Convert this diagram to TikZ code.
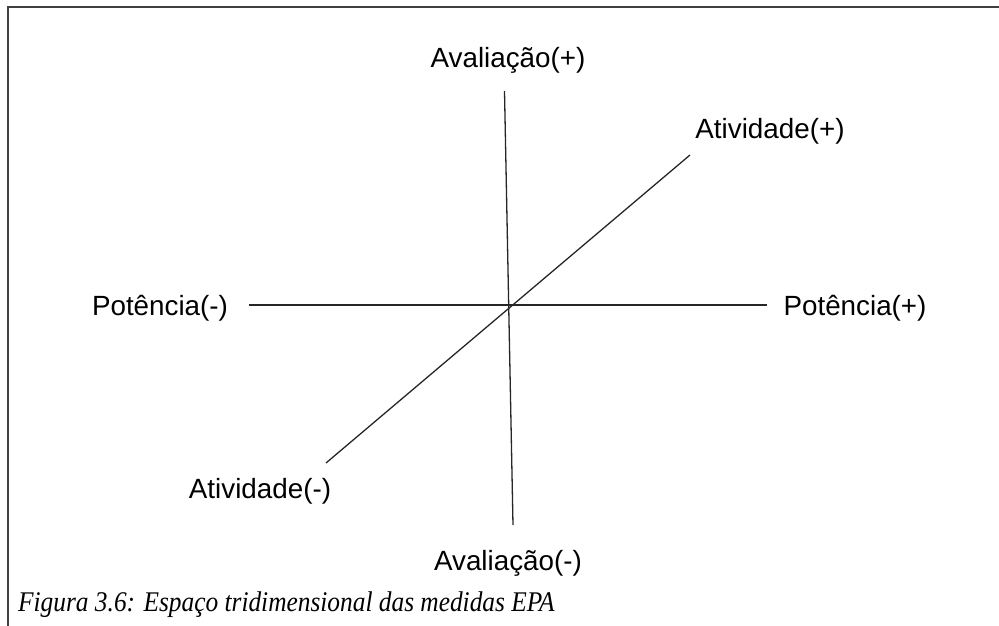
\documentclass[tikz,border=0pt]{standalone}
\usepackage{fontspec}
\setmainfont{Liberation Sans}
\newfontfamily\captionfont{Liberation Serif}
\begin{document}
\begin{tikzpicture}[x=1pt,y=-1pt,
  axislabel/.style={font=\fontsize{27.8}{30}\selectfont, inner sep=0pt, anchor=base},
  axis/.style={line width=1.3pt, black!85},
  frameline/.style={line width=2pt, black!75}]
\useasboundingbox (0,0) rectangle (999,626);
% frame
\draw[frameline] (7.5,626) -- (7.5,7) -- (999,7);
% axis end points
\coordinate (evalTop) at (504.5,91);
\coordinate (evalBot) at (513,525);
\coordinate (potL) at (249,305);
\coordinate (potR) at (767,305);
\coordinate (actL) at (326,463);
\coordinate (actR) at (690,155);
\draw[axis] (evalTop) -- (evalBot);
\draw[axis] (potL) -- (potR);
\draw[axis] (actL) -- (actR);
% labels
\node[axislabel] (avPlus) at (508,67) {Avaliação(+)};
\node[axislabel] (avMinus) at (508,570) {Avaliação(-)};
\node[axislabel] (atPlus) at (770,139) {Atividade(+)};
\node[axislabel] (atMinus) at (260,498) {Atividade(-)};
\node[axislabel] (poMinus) at (160,315) {Potência(-)};
\node[axislabel] (poPlus) at (855,315) {Potência(+)};
% caption
\node[font=\captionfont\itshape\fontsize{28.5}{34}\selectfont, inner sep=0pt, anchor=base west, xscale=0.89] (caption) at (18,611) {Figura 3.6: Espaço tridimensional das medidas EPA};
\end{tikzpicture}
\end{document}
